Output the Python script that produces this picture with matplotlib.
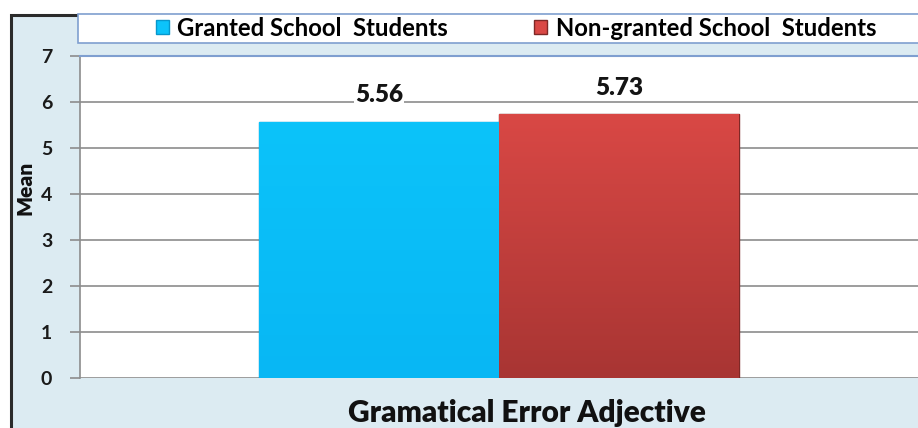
import matplotlib
matplotlib.use("Agg")
import matplotlib.pyplot as plt
import numpy as np
from matplotlib.patches import Rectangle, Patch
from matplotlib.colors import LinearSegmentedColormap
from matplotlib.font_manager import FontProperties

categories = ["Gramatical Error Adjective"]
series_names = ["Granted School  Students", "Non-granted School  Students"]
values = [5.56, 5.73]
value_labels = ["5.56", "5.73"]
yticks = [0, 1, 2, 3, 4, 5, 6, 7]

W, H = 918, 428
plt.rcParams['font.family'] = ['Lato', 'DejaVu Sans']
fig = plt.figure(figsize=(W / 100, H / 100), dpi=100)
fig.patch.set_facecolor("white")


def fb(size, weight="bold"):
    return FontProperties(family="Lato", weight=weight, size=size)


# outer chart frame
frame = Rectangle((11 / W, -0.05), 1.0, (H - 15) / H + 0.05, transform=fig.transFigure,
                  facecolor="#DCEBF2", edgecolor="#2b2b2b", lw=2.2, zorder=-10)
fig.patches.append(frame)

ax = fig.add_axes([80 / W, (H - 378) / H, (918 - 80) / W, (378 - 56) / H])
ax.set_zorder(1)
ax.set_facecolor("white")

bw = 240 / 838
offsets = [-bw / 2, bw / 2]
colors_top = ["#0CC3FA", "#D94845"]
colors_bot = ["#08B7F4", "#A83533"]
edge = ["#0797CC", "#7E2826"]
for i, (v, off) in enumerate(zip(values, offsets)):
    bar = ax.bar(off, v, width=bw, color=colors_top[i], edgecolor=edge[i], lw=1.0, zorder=3)[0]
    grad = np.linspace(0, 1, 256).reshape(-1, 1)
    cmap = LinearSegmentedColormap.from_list("g%d" % i, [colors_bot[i], colors_top[i]])
    im = ax.imshow(grad, extent=[off - bw / 2, off + bw / 2, 0, v], origin="lower",
                   cmap=cmap, aspect="auto", zorder=3.5)
    im.set_clip_path(bar)
    ax.text(off, v + 0.43, value_labels[i], ha="center", va="baseline",
            fontproperties=fb(17.5, "heavy"), color="#141414", zorder=5,
            bbox=dict(facecolor="white", edgecolor="none", pad=0.5))
ax.set_xlim(-0.5, 0.5)
ax.set_ylim(0, 7)

ax.set_yticks(yticks)
ax.set_yticklabels([str(t) for t in yticks], fontproperties=fb(14), color="#1a1a1a")
ax.yaxis.grid(True, color="#8c8c8c", lw=1.2, zorder=1)
ax.set_axisbelow(True)
ax.tick_params(axis="y", length=7, width=1.2, color="#8c8c8c", pad=13)
ax.set_xticks([])
for s in ["right", "bottom"]:
    ax.spines[s].set_visible(False)
ax.spines["left"].set_color("#8c8c8c")
ax.spines["left"].set_linewidth(1.2)
ax.spines["top"].set_color("#7F9FD0")
ax.spines["top"].set_linewidth(1.5)

ax.set_ylabel("Mean", fontproperties=fb(15, "heavy"), color="#111111", va="center")
ax.yaxis.set_label_coords(-55 / 838, (378 - 188) / 322)
ax.set_xlabel(categories[0], fontproperties=fb(21.5, "heavy"), color="#111111", va="center")
ax.xaxis.set_label_coords((527 - 80) / 838, -35 / 322)

# legend box
lbox = Rectangle((78 / W, (H - 43) / H), 1.0, 29 / H, transform=fig.transFigure,
                 facecolor="white", edgecolor="#7F9FD0", lw=1.2, zorder=-5)
fig.patches.append(lbox)
handles = [Patch(facecolor=colors_top[0], edgecolor=edge[0]),
           Patch(facecolor=colors_top[1], edgecolor=edge[1])]
fig.legend(handles, series_names, loc="center", bbox_to_anchor=(516 / W, (H - 28) / H),
           ncol=2, frameon=False, handlelength=0.55, handleheight=0.55,
           handletextpad=0.35, columnspacing=3.6, prop=fb(17.2))

fig.savefig("out.png", dpi=100)
